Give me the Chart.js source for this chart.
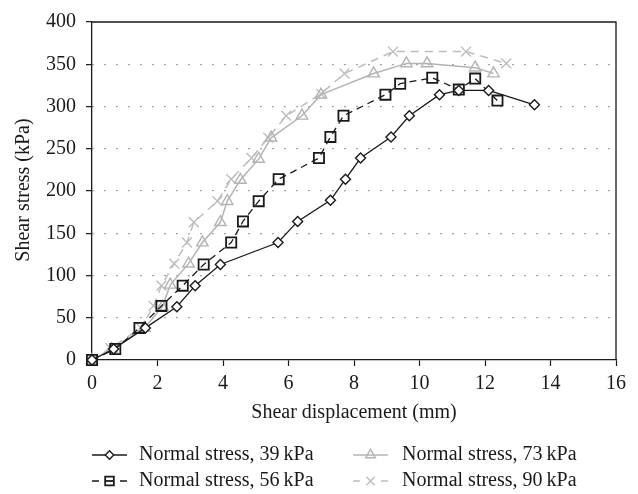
<!DOCTYPE html>
<html>
<head>
<meta charset="utf-8">
<script src="https://cdn.jsdelivr.net/npm/chart.js@4/dist/chart.umd.min.js"></script>
<style>
  html, body { margin: 0; padding: 0; background: #fff; }
  #wrap { width: 638px; height: 494px; }
</style>
</head>
<body>
<div id="wrap"><canvas id="c" width="638" height="494"></canvas></div>
<script>
// ---- data ----
const seriesLabels = ['Normal stress, 39\u2009kPa', 'Normal stress, 56\u2009kPa', 'Normal stress, 73\u2009kPa', 'Normal stress, 90\u2009kPa'];

const disp39   = [0, 0.66, 1.63, 2.59, 3.15, 3.92, 5.68, 6.28, 7.28, 7.74, 8.2, 9.13, 9.69, 10.61, 11.2, 12.11, 13.51];
const stress39 = [0, 13, 38, 63, 88, 113, 139, 164, 189, 214, 239, 264, 289, 314, 319, 319, 302];

const disp56   = [0, 0.71, 1.45, 2.12, 2.77, 3.41, 4.25, 4.61, 5.09, 5.7, 6.93, 7.28, 7.68, 8.96, 9.41, 10.39, 11.2, 11.7, 12.38];
const stress56 = [0, 13, 38, 64, 88, 113, 139, 164, 188, 214, 239, 264, 289, 314, 327, 334, 320, 333, 307];

const disp73   = [0, 0.6, 1.6, 2.15, 2.39, 2.95, 3.37, 3.92, 4.13, 4.53, 5.09, 5.47, 6.41, 6.99, 8.6, 9.6, 10.23, 11.7, 12.26];
const stress73 = [0, 13, 38, 63, 89, 114, 139, 163, 188, 213, 238, 263, 289, 314, 339, 351, 351, 346, 339];

const disp90   = [0, 0.56, 1.5, 1.88, 2.12, 2.51, 2.9, 3.11, 3.83, 4.25, 4.87, 5.38, 5.93, 6.99, 7.71, 9.19, 11.42, 12.65];
const stress90 = [0, 14, 38, 64, 88, 114, 139, 163, 188, 214, 239, 263, 289, 315, 339, 365, 365, 351];

const xTitle = 'Shear displacement (mm)';
const yTitle = 'Shear stress (kPa)';
const xMin = 0, xMax = 16, xStep = 2;
const yMin = 0, yMax = 400, yStep = 50;

// ---- helpers ----
function pts(xs, ys) { return xs.map((x, i) => ({ x: x, y: ys[i] })); }

const FONT = "'Liberation Serif', 'Times New Roman', serif";
const GRAY73 = '#b4b4b4';
const GRAY90 = '#bdbdbd';

const styles = [
  { color: '#1a1a1a', dash: [], pointStyle: 'rectRot', radius: 5, fill: '#ffffff', pbw: 1.4, lw: 1.3 },
  { color: '#1a1a1a', dash: [7, 5], pointStyle: 'rect', radius: 7.2, fill: 'rgba(0,0,0,0)', pbw: 1.8, lw: 1.3 },
  { color: GRAY73, dash: [], pointStyle: 'triangle', radius: 6.6, fill: 'rgba(0,0,0,0)', pbw: 1.4, lw: 1.5 },
  { color: GRAY90, dash: [8, 6], pointStyle: 'crossRot', radius: 7, fill: 'rgba(0,0,0,0)', pbw: 1.4, lw: 1.5 }
];

const dataSets = [pts(disp39, stress39), pts(disp56, stress56), pts(disp73, stress73), pts(disp90, stress90)];

const datasets = dataSets.map((d, i) => ({
  label: seriesLabels[i],
  data: d,
  showLine: true,
  borderColor: styles[i].color,
  borderWidth: styles[i].lw,
  borderDash: styles[i].dash,
  pointStyle: styles[i].pointStyle,
  pointRadius: styles[i].radius,
  pointHoverRadius: styles[i].radius,
  pointBackgroundColor: styles[i].fill,
  pointBorderColor: styles[i].color,
  pointBorderWidth: styles[i].pbw,
  tension: 0,
  clip: false
}));

// draw a legend marker
function drawMarker(ctx, st, x, y) {
  ctx.save();
  ctx.setLineDash([]);
  ctx.strokeStyle = st.color;
  ctx.fillStyle = st.fill;
  ctx.lineWidth = st.pbw;
  const r = st.radius * 0.85;
  ctx.beginPath();
  if (st.pointStyle === 'rectRot') {
    ctx.moveTo(x - r, y); ctx.lineTo(x, y - r); ctx.lineTo(x + r, y); ctx.lineTo(x, y + r); ctx.closePath();
    ctx.fill(); ctx.stroke();
  } else if (st.pointStyle === 'rect') {
    const s = r * Math.SQRT1_2;
    ctx.rect(x - s, y - s, 2 * s, 2 * s);
    ctx.fill(); ctx.stroke();
    ctx.beginPath(); ctx.moveTo(x - s, y); ctx.lineTo(x + s, y); ctx.stroke();
  } else if (st.pointStyle === 'triangle') {
    for (let k = 0; k < 3; k++) {
      const a = k * 2 * Math.PI / 3;
      const px = x + Math.sin(a) * r, py = y - Math.cos(a) * r;
      if (k === 0) ctx.moveTo(px, py); else ctx.lineTo(px, py);
    }
    ctx.closePath();
    ctx.fill(); ctx.stroke();
  } else if (st.pointStyle === 'crossRot') {
    const o = r * Math.SQRT1_2;
    ctx.moveTo(x - o, y - o); ctx.lineTo(x + o, y + o);
    ctx.moveTo(x + o, y - o); ctx.lineTo(x - o, y + o);
    ctx.stroke();
  }
  ctx.restore();
}

const decorPlugin = {
  id: 'decor',
  afterDraw(chart) {
    const ctx = chart.ctx;
    const ca = chart.chartArea;
    ctx.save();
    // box around plot area
    ctx.strokeStyle = '#1a1a1a';
    ctx.lineWidth = 1.3;
    ctx.setLineDash([]);
    ctx.beginPath();
    ctx.moveTo(ca.left, ca.top); ctx.lineTo(ca.right, ca.top); ctx.lineTo(ca.right, ca.bottom);
    ctx.stroke();

    // axis titles
    ctx.fillStyle = '#1a1a1a';
    ctx.font = '20px ' + FONT;
    ctx.textAlign = 'center';
    ctx.textBaseline = 'middle';
    ctx.fillText(xTitle, (ca.left + ca.right) / 2, 413);
    ctx.save();
    ctx.translate(24, 190);
    ctx.rotate(-Math.PI / 2);
    ctx.fillText(yTitle, 0, 0);
    ctx.restore();

    // legend (two columns, two rows)
    const cols = [{ x0: 92, x1: 127, tx: 139 }, { x0: 353, x1: 388, tx: 402 }];
    const rows = [455, 481];
    const place = [[0, 0], [1, 0], [0, 1], [1, 1]]; // [row, col] for each series
    seriesLabels.forEach((lab, i) => {
      const st = styles[i];
      const y = rows[place[i][0]];
      const c = cols[place[i][1]];
      const mx = (c.x0 + c.x1) / 2;
      ctx.save();
      ctx.strokeStyle = st.color;
      ctx.lineWidth = st.lw;
      if (st.dash.length) {
        ctx.beginPath();
        ctx.moveTo(c.x0, y); ctx.lineTo(c.x0 + 7, y);
        ctx.moveTo(c.x1 - 7, y); ctx.lineTo(c.x1, y);
        ctx.stroke();
      } else {
        ctx.beginPath(); ctx.moveTo(c.x0, y); ctx.lineTo(c.x1, y); ctx.stroke();
      }
      ctx.restore();
      drawMarker(ctx, st, mx, y);
      ctx.fillStyle = '#1a1a1a';
      ctx.font = '20px ' + FONT;
      ctx.textAlign = 'left';
      ctx.textBaseline = 'middle';
      ctx.fillText(lab, c.tx, y);
    });
    ctx.restore();
  }
};

new Chart(document.getElementById('c'), {
  type: 'scatter',
  data: { datasets: datasets },
  options: {
    responsive: false,
    animation: false,
    devicePixelRatio: 1,
    layout: { padding: { top: 14, right: 22, left: 0, bottom: 0 } },
    plugins: { legend: { display: false }, tooltip: { enabled: false }, title: { display: false } },
    scales: {
      x: {
        type: 'linear', min: xMin, max: xMax,
        afterFit(scale) { scale.height = 134; },
        ticks: { stepSize: xStep, color: '#1a1a1a', font: { family: FONT, size: 20 }, padding: 6, maxRotation: 0 },
        grid: { drawOnChartArea: false, drawTicks: true, tickLength: 6, tickColor: '#1a1a1a', tickWidth: 1.2 },
        border: { display: true, color: '#1a1a1a', width: 1.3 }
      },
      y: {
        type: 'linear', min: yMin, max: yMax,
        afterFit(scale) { scale.width = 92; },
        ticks: { stepSize: yStep, color: '#1a1a1a', font: { family: FONT, size: 20 }, padding: 10 },
        grid: {
          drawTicks: true, tickLength: 6, tickColor: '#1a1a1a', tickWidth: 1.2, tickBorderDash: [],
          color: (c) => (c.tick && (c.tick.value === yMin || c.tick.value === yMax)) ? 'rgba(0,0,0,0)' : '#777777',
          lineWidth: 1.3
        },
        border: { display: true, color: '#1a1a1a', width: 1.3, dash: [1.3, 10.7] }
      }
    }
  },
  plugins: [decorPlugin]
});
</script>
</body>
</html>
